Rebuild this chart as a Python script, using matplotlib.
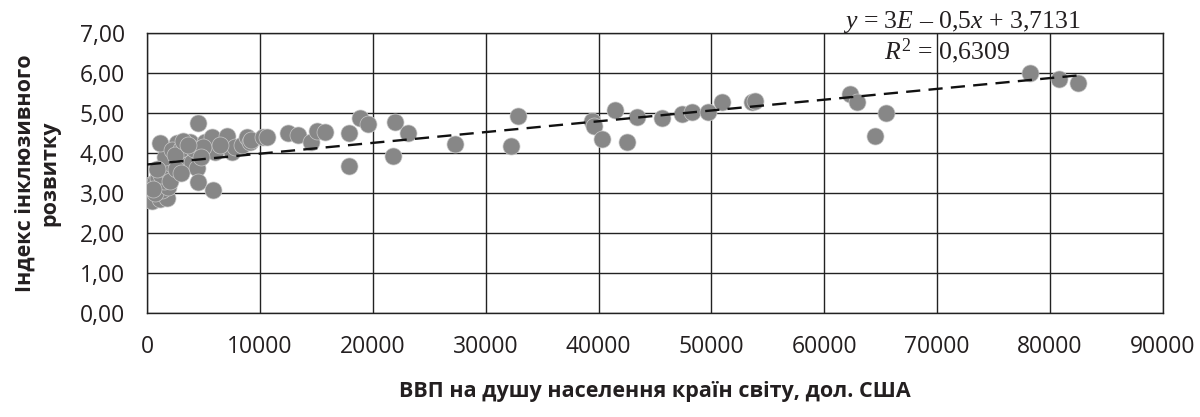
import matplotlib
matplotlib.use("Agg")
import matplotlib.pyplot as plt
import numpy as np

# GDP per capita (USD) and inclusive development index
gdp = [100, 400, 1150, 1800, 300, 700, 1000, 1330, 700, 1850, 1500, 1200, 2300, 1600,
       2000, 2750, 1600, 1150, 2650, 3800, 3400, 3500, 4000, 4400, 4500, 5850, 4500,
       5100, 5800, 6000, 7070, 7500, 7800, 8400, 8900, 9100, 2200, 3000, 2500, 3200,
       4200, 5000, 2000, 2600, 3000, 900, 500, 4800, 6500, 3600,
       9200, 10250, 10600, 12500, 13400, 14500, 15100, 15800, 17900, 17900, 18900,
       19600, 22000, 21800, 23100, 27300, 32200, 32900, 39400, 39600, 40300, 41500,
       42500, 43400, 45600, 47400, 48300, 49700, 50900, 53600, 53900, 62300, 62900,
       65500, 64500, 78200, 80800, 82500]
index = [2.85, 2.8, 2.85, 2.87, 3.2, 3.27, 3.37, 3.08, 3.0, 3.15, 3.3, 3.45, 3.52, 3.6,
         3.75, 3.82, 3.9, 4.25, 4.25, 4.28, 4.0, 3.7, 3.77, 3.62, 3.27, 3.08, 4.75,
         4.28, 4.4, 4.03, 4.42, 4.03, 4.15, 4.2, 4.4, 4.28, 4.07, 4.1, 3.95, 4.3,
         4.1, 4.15, 3.3, 3.6, 3.5, 3.6, 3.1, 3.9, 4.2, 4.2,
         4.33, 4.4, 4.4, 4.5, 4.45, 4.27, 4.55, 4.53, 4.5, 3.67, 4.87,
         4.73, 4.77, 3.92, 4.5, 4.22, 4.18, 4.93, 4.8, 4.67, 4.35, 5.08,
         4.27, 4.9, 4.87, 4.97, 5.03, 5.03, 5.28, 5.28, 5.3, 5.47, 5.28,
         5.0, 4.43, 6.0, 5.85, 5.75]

trend_slope = 2.7e-5
trend_intercept = 3.7131
eq_text = r"$y$ = 3$E$ – 0,5$x$ + 3,7131"
r2_text = r"$R^2$ = 0,6309"

x_ticks = [0, 10000, 20000, 30000, 40000, 50000, 60000, 70000, 80000, 90000]
y_ticks = [0, 1, 2, 3, 4, 5, 6, 7]

plt.rcParams['mathtext.fontset'] = 'custom'
plt.rcParams['mathtext.rm'] = 'Liberation Serif'
plt.rcParams['mathtext.it'] = 'Liberation Serif:italic'

fig = plt.figure(figsize=(12, 4.17), dpi=100)
ax = fig.add_axes([147/1200, 1-313/417, (1163-147)/1200, (313-33)/417])

ax.scatter(gdp, index, s=150, color='#878787', edgecolors='#c8c8c8',
           linewidths=0.5, zorder=3)

xt = np.array([0, max(gdp)])
ax.plot(xt, trend_intercept + trend_slope*xt, color='#111111', lw=1.7,
        linestyle=(0, (6, 3.5)), zorder=4)

ax.set_xlim(0, 90000)
ax.set_ylim(0, 7)
ax.set_xticks(x_ticks)
ax.set_yticks(y_ticks)
ax.set_xticklabels([str(v) for v in x_ticks])
ax.set_yticklabels([f"{v:.2f}".replace('.', ',') for v in y_ticks])
ax.grid(True, color='#222222', lw=1.0, zorder=0)
ax.set_axisbelow(True)
for s in ax.spines.values():
    s.set_color('#222222')
    s.set_linewidth(1.0)
ax.tick_params(length=0, pad=16, labelsize=16.5, labelcolor='#231f20')
for lab in ax.get_xticklabels() + ax.get_yticklabels():
    lab.set_fontfamily('Open Sans')

ax.set_ylabel("Індекс інклюзивного\nрозвитку", fontsize=15.5, fontweight='bold',
              family='Open Sans', color='#231f20', labelpad=14, linespacing=1.2)
fig.text(655/1200, 1-392/417, "ВВП на душу населення країн світу, дол. США",
         ha='center', va='center', fontsize=15.5, fontweight='bold',
         family='Open Sans', color='#231f20')

fig.text(962/1200, 1-22/417, eq_text, ha='center', va='center', fontsize=18.5,
         family='Liberation Serif', color='#231f20')
fig.text(947/1200, 1-51/417, r2_text, ha='center', va='center', fontsize=18.5,
         family='Liberation Serif', color='#231f20')

fig.savefig("out.png", dpi=100)
